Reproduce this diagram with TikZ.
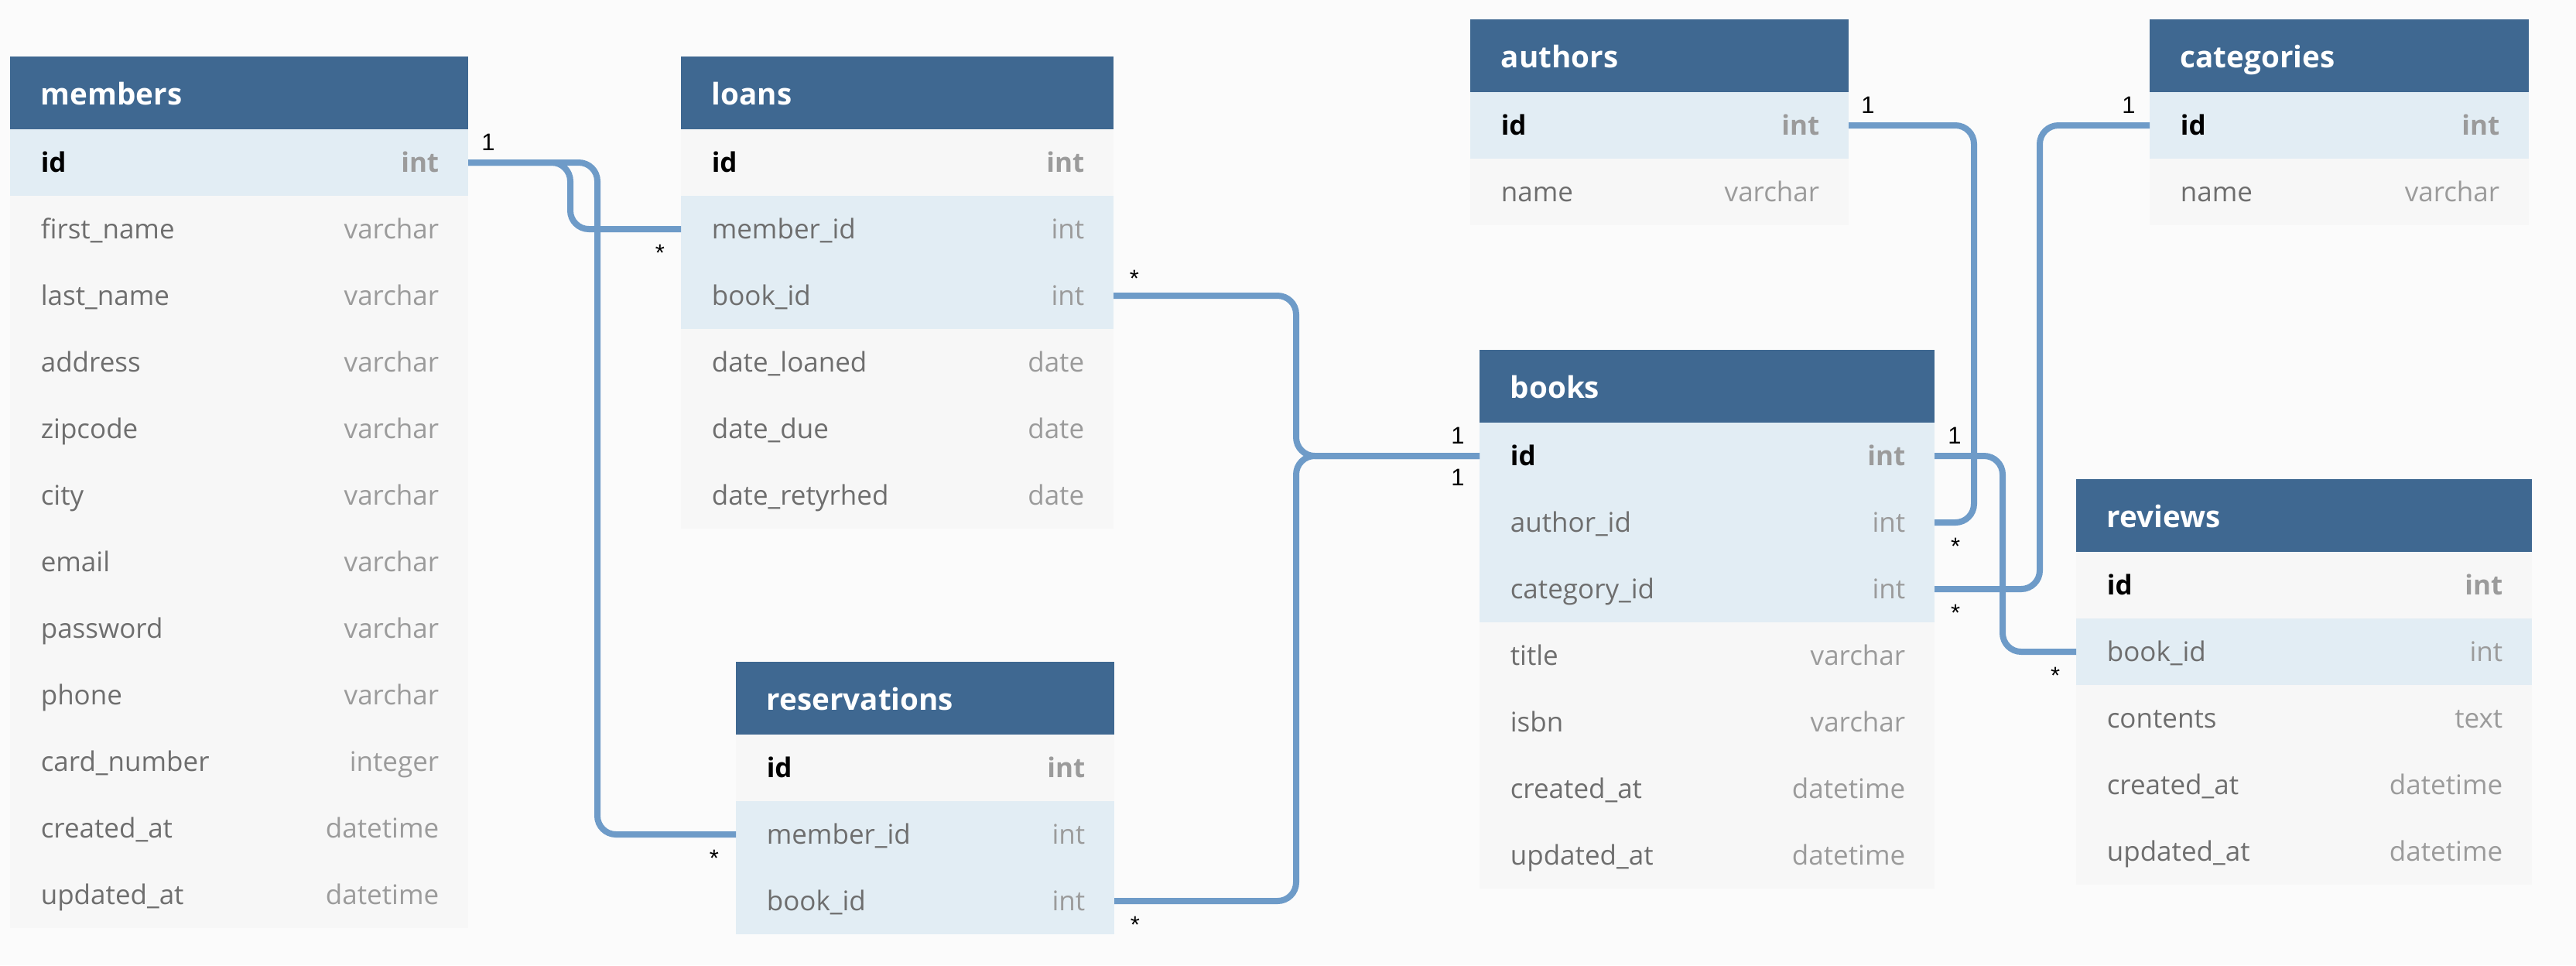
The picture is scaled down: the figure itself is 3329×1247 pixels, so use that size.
\documentclass[tikz,border=0pt]{standalone}
\usepackage{fontspec}
\setmainfont{Open Sans}
\newfontfamily\lblfont{Liberation Sans}
\definecolor{bgcol}{HTML}{FBFBFB}
\definecolor{hdrcol}{HTML}{3F6891}
\definecolor{hlrow}{HTML}{E2EDF4}
\definecolor{plrow}{HTML}{F7F7F7}
\definecolor{linecol}{HTML}{6E9BC8}
\definecolor{namecol}{HTML}{6E6E6E}
\definecolor{typecol}{HTML}{9B9B9B}
\def\px{0.25pt}
\tikzset{
  hdr/.style={rectangle, fill=hdrcol, draw=none, inner sep=0pt, outer sep=0pt, minimum height=94*\px},
  hdrtxt/.style={inner sep=0pt, text=white, font=\fontsize{9.65}{12}\selectfont\bfseries},
  rowbox/.style={rectangle, draw=none, inner sep=0pt, outer sep=0pt, minimum height=86*\px},
  hl/.style={fill=hlrow},
  pl/.style={fill=plrow},
  pk/.style={inner sep=0pt, text=black, font=\fontsize{8.75}{10}\selectfont\bfseries},
  pktype/.style={inner sep=0pt, text=typecol, font=\fontsize{8.75}{10}\selectfont\bfseries},
  fld/.style={inner sep=0pt, text=namecol, font=\fontsize{8.75}{10}\selectfont},
  fldtype/.style={inner sep=0pt, text=typecol, font=\fontsize{8.75}{10}\selectfont},
  conn/.style={draw=linecol, line width=2pt, rounded corners=6pt},
  lbl/.style={inner sep=0pt, text=black, font=\lblfont\fontsize{7.75}{9}\selectfont},
}
\newcommand\dbhead[5]{%
  \node[hdr, minimum width=#4*\px, anchor=north west] (#1) at (#2,#3) {};
  \node[hdrtxt, anchor=base west, xshift=39*\px, yshift=-15*\px] (#1-title) at (#1.west) {#5};
  \xdef\curtab{#1}\xdef\curx{#2}\xdef\cury{#3}\xdef\curw{#4}}
\newcommand\dbrow[6]{%
  \node[rowbox, #3, minimum width=\curw*\px, anchor=north west] (\curtab-#1) at (\curx,{\cury+94+86*(#2-1)}) {};
  \node[#4, anchor=base west, xshift=39*\px, yshift=-12*\px] (\curtab-#1-n) at (\curtab-#1.west) {#5};
  \node[#4type, anchor=base east, xshift=-37*\px, yshift=-12*\px] (\curtab-#1-t) at (\curtab-#1.east) {#6};}
\begin{document}
\begin{tikzpicture}[x=0.25pt, y=-0.25pt]
\useasboundingbox (0,0) rectangle (3329,1247);
\fill[bgcol] (0,0) rectangle (3329,1247);

% members
\dbhead{members}{13}{73}{592}{members}
\dbrow{id}{1}{hl}{pk}{id}{int}
\dbrow{firstname}{2}{pl}{fld}{first\_name}{varchar}
\dbrow{lastname}{3}{pl}{fld}{last\_name}{varchar}
\dbrow{address}{4}{pl}{fld}{address}{varchar}
\dbrow{zipcode}{5}{pl}{fld}{zipcode}{varchar}
\dbrow{city}{6}{pl}{fld}{city}{varchar}
\dbrow{email}{7}{pl}{fld}{email}{varchar}
\dbrow{password}{8}{pl}{fld}{password}{varchar}
\dbrow{phone}{9}{pl}{fld}{phone}{varchar}
\dbrow{cardnumber}{10}{pl}{fld}{card\_number}{integer}
\dbrow{createdat}{11}{pl}{fld}{created\_at}{datetime}
\dbrow{updatedat}{12}{pl}{fld}{updated\_at}{datetime}

% loans
\dbhead{loans}{880}{73}{559}{loans}
\dbrow{id}{1}{pl}{pk}{id}{int}
\dbrow{memberid}{2}{hl}{fld}{member\_id}{int}
\dbrow{bookid}{3}{hl}{fld}{book\_id}{int}
\dbrow{dateloaned}{4}{pl}{fld}{date\_loaned}{date}
\dbrow{datedue}{5}{pl}{fld}{date\_due}{date}
\dbrow{dateretyrhed}{6}{pl}{fld}{date\_retyrhed}{date}

% reservations
\dbhead{reservations}{951}{855}{489}{reservations}
\dbrow{id}{1}{pl}{pk}{id}{int}
\dbrow{memberid}{2}{hl}{fld}{member\_id}{int}
\dbrow{bookid}{3}{hl}{fld}{book\_id}{int}

% authors
\dbhead{authors}{1900}{25}{489}{authors}
\dbrow{id}{1}{hl}{pk}{id}{int}
\dbrow{name}{2}{pl}{fld}{name}{varchar}

% categories
\dbhead{categories}{2778}{25}{490}{categories}
\dbrow{id}{1}{hl}{pk}{id}{int}
\dbrow{name}{2}{pl}{fld}{name}{varchar}

% books
\dbhead{books}{1912}{452}{588}{books}
\dbrow{id}{1}{hl}{pk}{id}{int}
\dbrow{authorid}{2}{hl}{fld}{author\_id}{int}
\dbrow{categoryid}{3}{hl}{fld}{category\_id}{int}
\dbrow{title}{4}{pl}{fld}{title}{varchar}
\dbrow{isbn}{5}{pl}{fld}{isbn}{varchar}
\dbrow{createdat}{6}{pl}{fld}{created\_at}{datetime}
\dbrow{updatedat}{7}{pl}{fld}{updated\_at}{datetime}

% reviews
\dbhead{reviews}{2683}{619}{589}{reviews}
\dbrow{id}{1}{pl}{pk}{id}{int}
\dbrow{bookid}{2}{hl}{fld}{book\_id}{int}
\dbrow{contents}{3}{pl}{fld}{contents}{text}
\dbrow{createdat}{4}{pl}{fld}{created\_at}{datetime}
\dbrow{updatedat}{5}{pl}{fld}{updated\_at}{datetime}

% connectors
\draw[conn] (members-id.east) -- ++(132,0) |- (loans-memberid.west);
\draw[conn] (members-id.east) -- ++(167,0) |- (reservations-memberid.west);
\draw[conn] (loans-bookid.east) -- ++(236,0) |- (books-id.west);
\draw[conn] (reservations-bookid.east) -- ++(235,0) |- (books-id.west);
\draw[conn] (authors-id.east) -- ++(162,0) |- (books-authorid.east);
\draw[conn] (categories-id.west) -- ++(-142,0) |- (books-categoryid.east);
\draw[conn] (books-id.east) -- ++(88,0) |- (reviews-bookid.west);

% cardinality labels
\node[lbl, anchor=base] (c1) at ([xshift=26*\px, yshift=16*\px]members-id.east) {1};
\node[lbl, anchor=base] (c2) at ([xshift=-27*\px, yshift=-41*\px]loans-memberid.west) {*};
\node[lbl, anchor=base] (c3) at ([xshift=-28*\px, yshift=-41*\px]reservations-memberid.west) {*};
\node[lbl, anchor=base] (c4) at ([xshift=27*\px, yshift=12*\px]loans-bookid.east) {*};
\node[lbl, anchor=base] (c5) at ([xshift=27*\px, yshift=-41*\px]reservations-bookid.east) {*};
\node[lbl, anchor=base] (c6) at ([xshift=-28*\px, yshift=16*\px]books-id.west) {1};
\node[lbl, anchor=base] (c7) at ([xshift=-28*\px, yshift=-38*\px]books-id.west) {1};
\node[lbl, anchor=base] (c8) at ([xshift=25*\px, yshift=16*\px]authors-id.east) {1};
\node[lbl, anchor=base] (c9) at ([xshift=-27*\px, yshift=16*\px]categories-id.west) {1};
\node[lbl, anchor=base] (c10) at ([xshift=26*\px, yshift=16*\px]books-id.east) {1};
\node[lbl, anchor=base] (c11) at ([xshift=27*\px, yshift=-41*\px]books-authorid.east) {*};
\node[lbl, anchor=base] (c12) at ([xshift=27*\px, yshift=-41*\px]books-categoryid.east) {*};
\node[lbl, anchor=base] (c13) at ([xshift=-27*\px, yshift=-41*\px]reviews-bookid.west) {*};
\end{tikzpicture}
\end{document}
